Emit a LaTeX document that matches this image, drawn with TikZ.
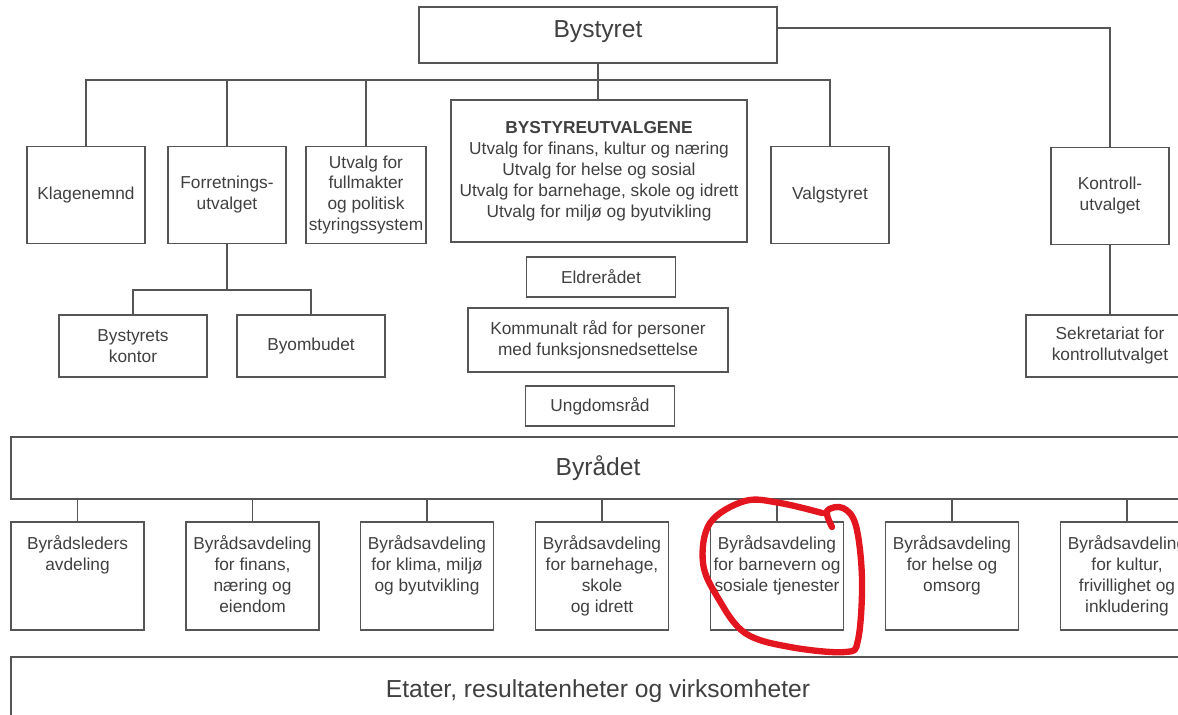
\documentclass[tikz,border=0pt]{standalone}
\usepackage{fontspec}
\setmainfont{Liberation Sans}
\definecolor{linegray}{HTML}{555555}
\definecolor{textgray}{HTML}{404040}
\definecolor{penred}{HTML}{E3161F}
\newcommand{\avd}[1]{\parbox[c][2.7cm][t]{3.325cm}{\centering\vspace{0.35cm}#1}}
\tikzset{
  org/.style={draw=linegray, line width=1pt, fill=white, text=textgray, align=center,
    inner sep=2pt, font=\fontsize{12.3}{14.9}\selectfont},
  orgbig/.style={org, font=\fontsize{17.5}{20}\selectfont},
  top/.style={org, minimum width=2.95cm, minimum height=2.425cm},
  small/.style={org, minimum width=3.725cm, minimum height=1cm},
  avdbox/.style={org, inner sep=0pt},
  link/.style={draw=linegray, line width=1pt},
}
\begin{document}
\begin{tikzpicture}[x=0.025cm, y=-0.025cm]
      \useasboundingbox (0,0) rectangle (1178,715);
      \node[orgbig, minimum width=8.95cm, minimum height=1.4cm] (bystyret) at (598,35) {\raisebox{0.3cm}{Bystyret}};
      \node[top] (klage) at (86,195) {Klagenemnd};
      \node[top] (forr) at (227,195) {Forretnings-\\utvalget};
      \node[top] (fullm) at (366,195) {Utvalg for\\fullmakter\\og politisk\\styringssystem};
      \node[org, minimum width=7.4cm, minimum height=3.55cm] (utvalgene) at (599,171)
        {\textbf{BYSTYREUTVALGENE}\\Utvalg for finans, kultur og næring\\Utvalg for helse og sosial\\Utvalg for barnehage, skole og idrett\\Utvalg for miljø og byutvikling};
      \node[top] (valg) at (830,195) {Valgstyret};
      \node[top] (kontroll) at (1110,196) {Kontroll-\\utvalget};
      \node[org, minimum width=4.2cm, minimum height=1.55cm] (sekr) at (1110,346) {Sekretariat for\\kontrollutvalget};
      \node[org, minimum width=3.7cm, minimum height=1.55cm] (kontor) at (133,346) {Bystyrets\\kontor};
      \node[org, minimum width=3.7cm, minimum height=1.55cm] (ombud) at (311,346) {Byombudet};
      \node[small] (eldre) at (601,277) {Eldrerådet};
      \node[org, minimum width=6.5cm, minimum height=1.6cm] (kommunalt) at (598,340) {Kommunalt råd for personer\\med funksjonsnedsettelse};
      \node[small] (ungdom) at (600,406) {Ungdomsråd};
      \node[orgbig, minimum width=29.35cm, minimum height=1.55cm] (byraadet) at (598,468) {Byrådet};
      \node[avdbox] (d1) at (77.5,576) {\avd{Byrådsleders\\avdeling}};
      \node[avdbox] (d2) at (252.5,576) {\avd{Byrådsavdeling\\for finans,\\næring og\\eiendom}};
      \node[avdbox] (d3) at (427,576) {\avd{Byrådsavdeling\\for klima, miljø\\og byutvikling}};
      \node[avdbox] (d4) at (602,576) {\avd{Byrådsavdeling\\for barnehage,\\skole\\og idrett}};
      \node[avdbox] (d5) at (777,576) {\avd{Byrådsavdeling\\for barnevern og\\sosiale tjenester}};
      \node[avdbox] (d6) at (952,576) {\avd{Byrådsavdeling\\for helse og\\omsorg}};
      \node[avdbox] (d7) at (1127,576) {\avd{Byrådsavdeling\\for kultur,\\frivillighet og\\inkludering}};
      \node[orgbig, minimum width=29.35cm, minimum height=1.7cm] (etater) at (598,691) {Etater, resultatenheter og virksomheter};
      \coordinate (bus) at (598,80);
      \coordinate (fbus) at (227,290);
      \begin{scope}[link]
        \draw (bystyret.south) -- (bystyret.south |- utvalgene.north);
        \draw (klage.north) |- (bus) -| (valg.north);
        \draw (forr.north) -- (forr.north |- bus);
        \draw (fullm.north) -- (fullm.north |- bus);
        \draw ([yshift=0.175cm]bystyret.east) -| (kontroll.north);
        \draw (kontroll.south) -- (sekr.north);
        \draw (forr.south) -- (fbus);
        \draw (kontor.north) |- (fbus) -| (ombud.north);
        \foreach \d in {d1,d2,d3,d4,d5,d6,d7}
          \draw (\d.north) -- (\d.north |- byraadet.south);
      \end{scope}
      \draw[penred, line width=4.5pt, line cap=round, line join=round]
        plot[smooth, tension=0.6] coordinates {(832,527) (827,511) (843,508) (856,526) (862,580) (858,640)
          (845,652) (790,647) (745,633) (718,598) (703,563) (710,523) (745,501) (780,503) (822,513)};
    \end{tikzpicture}
\end{document}
